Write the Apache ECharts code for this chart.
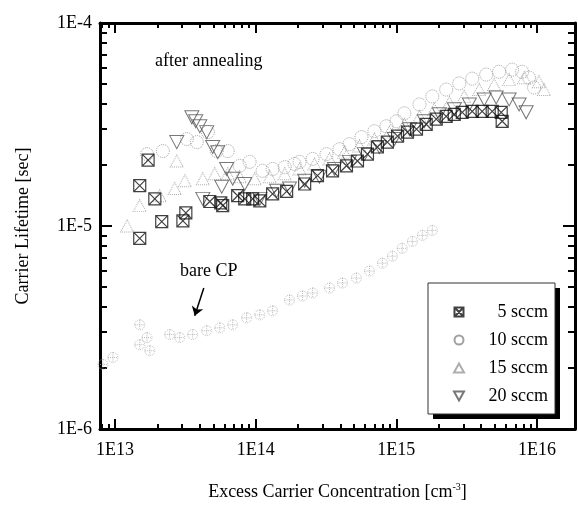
<!DOCTYPE html>
<html>
<head>
    <meta charset="utf-8">
    <title>Carrier Lifetime</title>
    <script src="https://cdn.jsdelivr.net/npm/echarts@6/dist/echarts.min.js"></script>
    <style>
        html, body {margin: 0; padding: 0; background: #fff;}
    </style>
</head>
<body>
<div id="main" style="width: 578px;height:506px;"></div>
<script>
    // 数据 [excess carrier concentration (cm^-3), lifetime (s)]
    var sccm5 = [
        [1.50e13, 1.58e-5], [1.50e13, 8.69e-6], [1.72e13, 2.11e-5], [1.92e13, 1.36e-5], [2.15e13, 1.05e-5],
        [3.04e13, 1.06e-5], [3.19e13, 1.16e-5], [4.72e13, 1.32e-5], [5.65e13, 1.30e-5], [5.83e13, 1.26e-5],
        [7.45e13, 1.41e-5], [8.36e13, 1.36e-5], [9.52e13, 1.36e-5], [1.07e14, 1.33e-5], [1.32e14, 1.44e-5],
        [1.66e14, 1.48e-5], [2.23e14, 1.61e-5], [2.75e14, 1.77e-5], [3.52e14, 1.87e-5], [4.42e14, 1.98e-5],
        [5.29e14, 2.09e-5], [6.23e14, 2.26e-5], [7.33e14, 2.45e-5], [8.63e14, 2.59e-5], [1.02e15, 2.77e-5],
        [1.20e15, 2.90e-5], [1.39e15, 3.00e-5], [1.63e15, 3.17e-5], [1.92e15, 3.36e-5], [2.26e15, 3.47e-5],
        [2.58e15, 3.55e-5], [2.94e15, 3.63e-5], [3.46e15, 3.67e-5], [4.07e15, 3.67e-5], [4.80e15, 3.67e-5],
        [5.56e15, 3.63e-5], [5.65e15, 3.28e-5]
    ];
    var sccm10 = [
        [1.69e13, 2.26e-5], [2.19e13, 2.34e-5], [3.24e13, 2.68e-5], [3.82e13, 2.59e-5], [4.57e13, 2.90e-5],
        [5.29e13, 2.34e-5], [6.33e13, 2.34e-5], [7.70e13, 1.98e-5], [9.06e13, 2.07e-5], [1.12e14, 1.87e-5],
        [1.32e14, 1.91e-5], [1.61e14, 1.95e-5], [1.89e14, 2.02e-5], [2.05e14, 2.07e-5], [2.54e14, 2.14e-5],
        [3.19e14, 2.26e-5], [3.94e14, 2.39e-5], [4.64e14, 2.53e-5], [5.65e14, 2.74e-5], [6.98e14, 2.93e-5],
        [8.49e14, 3.10e-5], [1.00e15, 3.28e-5], [1.14e15, 3.59e-5], [1.46e15, 3.97e-5], [1.80e15, 4.35e-5],
        [2.26e15, 4.70e-5], [2.80e15, 5.04e-5], [3.46e15, 5.32e-5], [4.35e15, 5.57e-5], [5.37e15, 5.75e-5],
        [6.65e15, 5.89e-5], [7.83e15, 5.75e-5], [8.77e15, 5.38e-5], [9.52e15, 4.81e-5]
    ];
    var sccm15 = [
        [1.22e13, 1.00e-5], [1.50e13, 1.26e-5], [2.08e13, 1.41e-5], [2.66e13, 1.53e-5], [2.75e13, 2.09e-5],
        [3.14e13, 1.67e-5], [4.21e13, 1.71e-5], [5.12e13, 1.81e-5], [6.33e13, 1.81e-5], [7.70e13, 1.75e-5],
        [9.84e13, 1.71e-5], [1.26e14, 1.75e-5], [1.61e14, 1.81e-5], [2.05e14, 1.91e-5], [2.62e14, 2.02e-5],
        [3.35e14, 2.14e-5], [4.27e14, 2.31e-5], [5.47e14, 2.48e-5], [6.98e14, 2.68e-5], [8.92e14, 2.90e-5],
        [1.14e15, 3.17e-5], [1.46e15, 3.47e-5], [1.86e15, 3.76e-5], [2.38e15, 4.06e-5], [3.03e15, 4.35e-5],
        [3.88e15, 4.70e-5], [4.95e15, 4.98e-5], [6.33e15, 5.26e-5], [8.09e15, 5.38e-5], [1.03e16, 5.14e-5],
        [1.12e16, 4.70e-5]
    ];
    var sccm20 = [
        [2.75e13, 2.59e-5], [3.52e13, 3.43e-5], [3.75e13, 3.28e-5], [4.01e13, 3.10e-5], [4.49e13, 2.90e-5],
        [4.95e13, 2.45e-5], [5.38e13, 2.31e-5], [6.22e13, 1.91e-5], [6.87e13, 1.71e-5], [4.21e13, 1.36e-5],
        [5.74e13, 1.56e-5], [8.36e13, 1.61e-5], [1.07e14, 1.36e-5], [1.41e14, 1.49e-5], [1.74e14, 1.53e-5],
        [2.23e14, 1.67e-5], [2.84e14, 1.75e-5], [3.63e14, 1.91e-5], [4.64e14, 2.07e-5], [5.93e14, 2.26e-5],
        [7.57e14, 2.45e-5], [9.68e14, 2.68e-5], [1.24e15, 3.00e-5], [1.58e15, 3.28e-5], [2.02e15, 3.55e-5],
        [2.58e15, 3.76e-5], [3.30e15, 3.97e-5], [4.21e15, 4.20e-5], [5.12e15, 4.30e-5], [6.33e15, 4.20e-5],
        [7.45e15, 3.97e-5], [8.36e15, 3.63e-5]
    ];
    var bareCP = [
        [8.22e12, 2.08e-6], [9.68e12, 2.25e-6], [1.50e13, 3.26e-6], [1.50e13, 2.60e-6], [1.69e13, 2.82e-6],
        [1.77e13, 2.43e-6], [2.45e13, 2.92e-6], [2.89e13, 2.82e-6], [3.57e13, 2.92e-6], [4.49e13, 3.05e-6],
        [5.56e13, 3.15e-6], [6.87e13, 3.26e-6], [8.63e13, 3.53e-6], [1.07e14, 3.65e-6], [1.32e14, 3.82e-6],
        [1.74e14, 4.32e-6], [2.15e14, 4.52e-6], [2.54e14, 4.68e-6], [3.35e14, 4.95e-6], [4.14e14, 5.24e-6],
        [5.20e14, 5.54e-6], [6.44e14, 6.00e-6], [7.96e14, 6.56e-6], [9.37e14, 7.10e-6], [1.10e15, 7.76e-6],
        [1.30e15, 8.39e-6], [1.53e15, 8.99e-6], [1.80e15, 9.51e-6]
    ];
    var seriesNames = ['5 sccm', '10 sccm', '15 sccm', '20 sccm'];
    var xMajor = [1e13, 1e14, 1e15, 1e16];
    var yMajor = [1e-6, 1e-5, 1e-4];
    var xRange = [7.83e12, 1.86e16];
    var yRange = [1e-6, 1e-4];
    // 标注箭头 (bare CP)
    var arrowFrom = [4.28e13, 4.95e-6];
    var arrowTo = [3.69e13, 3.61e-6];

    var FONT = '"Liberation Serif", "Times New Roman", serif';

    // 次刻度 2..9
    function minorTicks(range) {
        var out = [];
        var lo = Math.floor(Math.log10(range[0])), hi = Math.ceil(Math.log10(range[1]));
        for (var e = lo; e <= hi; e++) {
            for (var m = 2; m <= 9; m++) {
                var v = m * Math.pow(10, e);
                if (v >= range[0] && v <= range[1]) out.push(v);
            }
        }
        return out;
    }
    var xMinor = minorTicks(xRange);
    var yMinor = minorTicks(yRange);

    function logLabel(v) {
        return '1E' + Math.round(Math.log10(v));
    }

    function makeAxis(type, position, range, ticks, len, showLine, labels) {
        return {
            type: 'log',
            position: position,
            min: range[0],
            max: range[1],
            axisLine: {show: showLine, onZero: false, lineStyle: {color: '#000', width: 3}},
            axisTick: {show: true, inside: true, length: len, customValues: ticks, lineStyle: {color: '#000', width: 2}},
            axisLabel: labels ? {
                show: true, customValues: labels, formatter: logLabel,
                color: '#000', fontFamily: FONT, fontSize: 18,
                margin: type === 'x' ? 12 : 8
            } : {show: false},
            splitLine: {show: false},
            minorTick: {show: false}
        };
    }

    var xAxes = [
        makeAxis('x', 'bottom', xRange, xMajor, 10, true, xMajor),
        makeAxis('x', 'bottom', xRange, xMinor, 5, false, null),
        makeAxis('x', 'top', xRange, xMajor, 10, true, null),
        makeAxis('x', 'top', xRange, xMinor, 5, false, null)
    ];
    xAxes[0].name = '{a|Excess Carrier Concentration [cm}{s|-3}{a|]}';
    xAxes[0].nameLocation = 'middle';
    xAxes[0].nameGap = 53;
    xAxes[0].nameTextStyle = {
        rich: {
            a: {fontFamily: FONT, fontSize: 18, color: '#000'},
            s: {fontFamily: FONT, fontSize: 10, color: '#000', verticalAlign: 'top', padding: [0, 0, 10, 0]}
        }
    };

    var yAxes = [
        makeAxis('y', 'left', yRange, yMajor, 12, true, yMajor),
        makeAxis('y', 'left', yRange, yMinor, 7, false, null),
        makeAxis('y', 'right', yRange, yMajor, 12, true, null),
        makeAxis('y', 'right', yRange, yMinor, 7, false, null)
    ];
    yAxes[0].name = 'Carrier Lifetime [sec]';
    yAxes[0].nameLocation = 'middle';
    yAxes[0].nameGap = 68;
    yAxes[0].nameTextStyle = {fontFamily: FONT, fontSize: 18, color: '#000'};

    var boxX = 'path://M0 0H10V10H0Z M0 0L10 10 M10 0L0 10';
    var triDown = 'path://M0 0L10 0L5 9Z';
    var triUp = 'path://M5 0L10 9L0 9Z';
    var crossCircle = 'path://M5 0A5 5 0 1 1 5 10A5 5 0 1 1 5 0Z M5 0V10 M0 5H10';

    // 图例框位置
    var legendBox = {x: 428, y: 283, w: 127, h: 131};

    var myChart = echarts.init(document.getElementById('main'));
    var option = {
        backgroundColor: '#fff',
        animation: false,
        grid: {left: 100, right: 3, top: 23, bottom: 74, containLabel: false},
        xAxis: xAxes,
        yAxis: yAxes,
        legend: {
            data: seriesNames,
            orient: 'vertical',
            left: legendBox.x,
            top: legendBox.y,
            padding: [20, 8, 10, 25],
            itemGap: 10,
            itemWidth: 10,
            itemHeight: 9,
            formatter: function (name) {
                return '{t|' + name + '}';
            },
            textStyle: {
                rich: {
                    t: {width: 79, align: 'right', fontFamily: FONT, fontSize: 18, color: '#000', lineHeight: 19}
                }
            }
        },
        graphic: [
            {type: 'rect', z: 3, silent: true,
                shape: {x: legendBox.x + 5, y: legendBox.y + 5, width: legendBox.w, height: legendBox.h},
                style: {fill: '#000'}},
            {type: 'rect', z: 3, silent: true,
                shape: {x: legendBox.x, y: legendBox.y, width: legendBox.w, height: legendBox.h},
                style: {fill: '#fff', stroke: '#333', lineWidth: 1}},
            {type: 'text', left: 155, top: 52, style: {text: 'after annealing', font: '18px ' + FONT, fill: '#000'}},
            {type: 'text', left: 180, top: 262, style: {text: 'bare CP', font: '18px ' + FONT, fill: '#000'}}
        ],
        series: [
            {
                name: 'bare CP', type: 'scatter', data: bareCP, z: 1,
                symbol: crossCircle, symbolSize: 10,
                itemStyle: {color: 'rgba(0,0,0,0)', borderColor: '#aaa', borderWidth: 1, borderType: 'dotted'},
                markLine: {
                    silent: true, animation: false,
                    symbol: ['none', 'arrow'], symbolSize: 9,
                    label: {show: false},
                    lineStyle: {color: '#000', width: 1.5, type: 'solid'},
                    data: [[{coord: arrowFrom}, {coord: arrowTo}]]
                }
            },
            {
                name: '15 sccm', type: 'scatter', data: sccm15, z: 2,
                symbol: triUp, symbolSize: [13, 12],
                itemStyle: {color: 'rgba(0,0,0,0)', borderColor: '#999', borderWidth: 1, borderType: 'dotted'}
            },
            {
                name: '10 sccm', type: 'scatter', data: sccm10, z: 3,
                symbol: 'circle', symbolSize: 13,
                itemStyle: {color: 'rgba(0,0,0,0)', borderColor: '#888', borderWidth: 1, borderType: 'dotted'}
            },
            {
                name: '20 sccm', type: 'scatter', data: sccm20, z: 4,
                symbol: triDown, symbolSize: [14, 13],
                itemStyle: {color: 'rgba(0,0,0,0)', borderColor: '#555', borderWidth: 1}
            },
            {
                name: '5 sccm', type: 'scatter', data: sccm5, z: 5,
                symbol: boxX, symbolSize: 12,
                itemStyle: {color: 'rgba(0,0,0,0)', borderColor: '#111', borderWidth: 1.2}
            }
        ]
    };
    myChart.setOption(option);
</script>
</body>
</html>
